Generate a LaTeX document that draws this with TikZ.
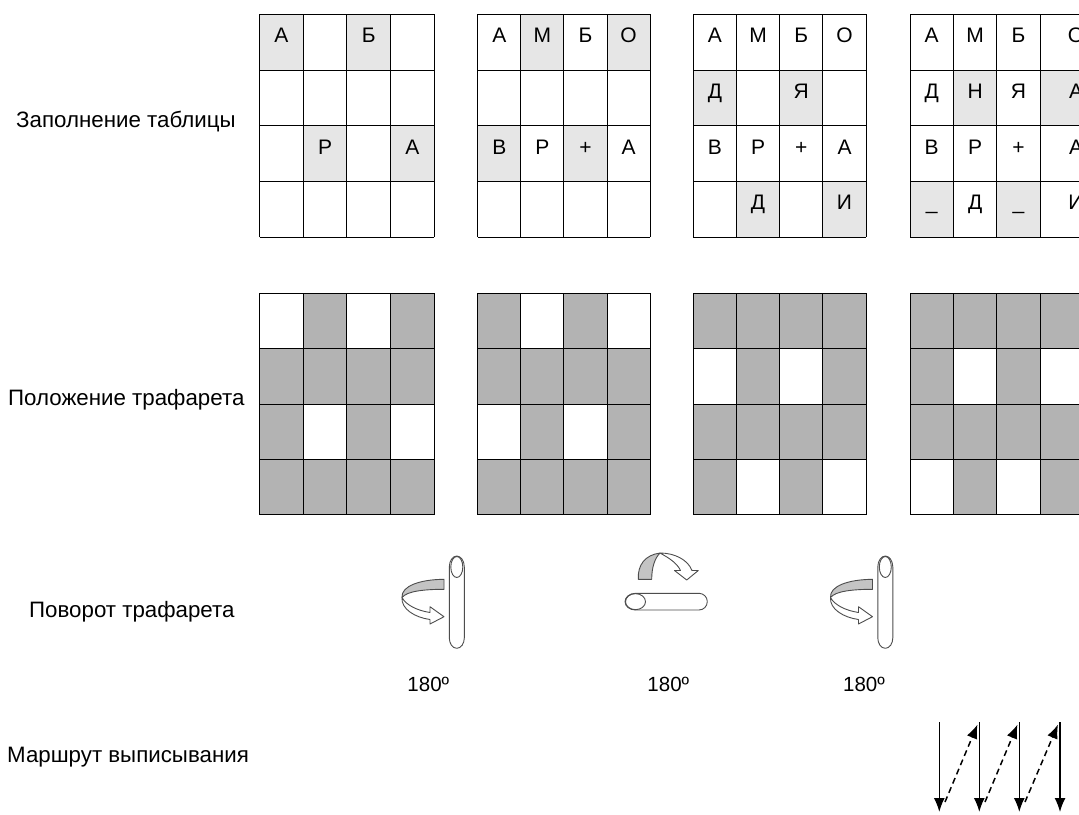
\documentclass[tikz,border=0pt]{standalone}
\usepackage{fontspec}
\setmainfont{Liberation Sans}
\usetikzlibrary{arrows.meta}
\definecolor{stencil}{HTML}{B3B3B3}
\definecolor{hilite}{HTML}{E6E6E6}
\definecolor{iconline}{HTML}{4D4D4D}
\definecolor{band}{HTML}{C4C4C4}
\begin{document}
\begin{tikzpicture}[x=1pt,y=-1pt,
  txt/.style={font=\fontsize{21}{25}\selectfont, inner sep=0pt},
  lbl/.style={font=\fontsize{22.3}{26}\selectfont, inner sep=0pt, anchor=base west},
  deg/.style={font=\fontsize{20.5}{24}\selectfont, inner sep=0pt, anchor=base},
  gridline/.style={draw=black, line width=1pt},
  iconpath/.style={draw=iconline, line width=0.9pt, line join=round},
  route/.style={line width=1.5pt, -{Latex[length=14pt,width=11pt]}},
  routeback/.style={route, dash pattern=on 6pt off 4pt}]
\useasboundingbox (0,0) rectangle (1079,814);
\clip (0,0) rectangle (1079,814);
\fill[white] (0,0) rectangle (1079,814);

% ---------- labels ----------
\node[lbl] (lab1) at (16,127) {Заполнение таблицы};
\node[lbl] (lab2) at (8,405) {Положение трафарета};
\node[lbl] (lab3) at (29,617) {Поворот трафарета};
\node[lbl] (lab4) at (7,762) {Маршрут выписывания};

% ---------- grids ----------
\def\TT{14.3}\def\TH{55.75}
\def\ST{293.3}\def\SH{55.4}
\foreach \L/\w/\cells in {259.5/43.7/{0/0,0/2,2/1,2/3},
                          477.7/43.1/{0/1,0/3,2/0,2/2},
                          693.3/43.2/{1/0,1/2,3/1,3/3},
                          910/43.4/{1/1,1/3,3/0,3/2}}{
  \foreach \r/\c in \cells {
    \fill[hilite] ({\L+\c*\w},{\TT+\r*\TH}) rectangle ({\L+(\c+1)*\w},{\TT+(\r+1)*\TH});
  }
  \foreach \i in {0,...,4} {
    \draw[gridline] ({\L+\i*\w},\TT) -- ({\L+\i*\w},{\TT+4*\TH});
    \draw[gridline] (\L,{\TT+\i*\TH}) -- ({\L+4*\w},{\TT+\i*\TH});
  }
  % stencils
  \fill[stencil] (\L,\ST) rectangle ({\L+4*\w},{\ST+4*\SH});
  \foreach \r/\c in \cells {
    \fill[white] ({\L+\c*\w},{\ST+\r*\SH}) rectangle ({\L+(\c+1)*\w},{\ST+(\r+1)*\SH});
  }
  \foreach \i in {0,...,4} {
    \draw[gridline] ({\L+\i*\w},\ST) -- ({\L+\i*\w},{\ST+4*\SH});
    \draw[gridline] (\L,{\ST+\i*\SH}) -- ({\L+4*\w},{\ST+\i*\SH});
  }
}

% ---------- letters ----------
\def\BA{42.7}\def\BB{98.45}\def\BC{154.2}\def\BD{209.95}
% grid 1
\node[txt,anchor=base] (g1a) at (281.35,\BA) {А};
\node[txt,anchor=base] (g1b) at (368.75,\BA) {Б};
\node[txt,anchor=base] (g1c) at (325.05,\BC) {Р};
\node[txt,anchor=base] (g1d) at (412.45,\BC) {А};
% grid 2
\node[txt,anchor=base] (g2a) at (499.25,\BA) {А};
\node[txt,anchor=base] (g2b) at (542.35,\BA) {М};
\node[txt,anchor=base] (g2c) at (585.45,\BA) {Б};
\node[txt,anchor=base] (g2d) at (628.55,\BA) {О};
\node[txt,anchor=base] (g2e) at (499.25,\BC) {В};
\node[txt,anchor=base] (g2f) at (542.35,\BC) {Р};
\node[txt,anchor=base] (g2g) at (585.45,\BC) {+};
\node[txt,anchor=base] (g2h) at (628.55,\BC) {А};
% grid 3
\node[txt,anchor=base] (g3a) at (714.9,\BA) {А};
\node[txt,anchor=base] (g3b) at (758.1,\BA) {М};
\node[txt,anchor=base] (g3c) at (801.3,\BA) {Б};
\node[txt,anchor=base] (g3d) at (844.5,\BA) {О};
\node[txt,anchor=base] (g3e) at (714.9,\BB) {Д};
\node[txt,anchor=base] (g3f) at (801.3,\BB) {Я};
\node[txt,anchor=base] (g3g) at (714.9,\BC) {В};
\node[txt,anchor=base] (g3h) at (758.1,\BC) {Р};
\node[txt,anchor=base] (g3i) at (801.3,\BC) {+};
\node[txt,anchor=base] (g3j) at (844.5,\BC) {А};
\node[txt,anchor=base] (g3k) at (758.1,\BD) {Д};
\node[txt,anchor=base] (g3l) at (844.5,\BD) {И};
% grid 4
\node[txt,anchor=base] (g4a) at (931.7,\BA) {А};
\node[txt,anchor=base] (g4b) at (975.1,\BA) {М};
\node[txt,anchor=base] (g4c) at (1018.5,\BA) {Б};
\node[txt,anchor=base] (g4d) at (1076,\BA) {О};
\node[txt,anchor=base] (g4e) at (931.7,\BB) {Д};
\node[txt,anchor=base] (g4f) at (975.1,\BB) {Н};
\node[txt,anchor=base] (g4g) at (1018.5,\BB) {Я};
\node[txt,anchor=base] (g4h) at (1076,\BB) {А};
\node[txt,anchor=base] (g4i) at (931.7,\BC) {В};
\node[txt,anchor=base] (g4j) at (975.1,\BC) {Р};
\node[txt,anchor=base] (g4k) at (1018.5,\BC) {+};
\node[txt,anchor=base] (g4l) at (1076,\BC) {А};
\node[txt,anchor=base] (g4m) at (931.7,\BD) {\_};
\node[txt,anchor=base] (g4n) at (975.1,\BD) {Д};
\node[txt,anchor=base] (g4o) at (1018.5,\BD) {\_};
\node[txt,anchor=base] (g4p) at (1076,\BD) {И};

% ---------- rotation icons ----------
\foreach \dx in {0,428.5} {
  \begin{scope}[xshift=\dx]
    \draw[iconpath, fill=white] (449.3,567) -- (449.3,638)
      arc[start angle=180, end angle=0, x radius=7.5, y radius=10.3]
      -- (464.3,567)
      arc[start angle=0, end angle=-180, x radius=7.5, y radius=11];
    \draw[iconpath] (456.8,567) ellipse[x radius=6, y radius=10.5];
    \draw[iconpath, fill=band] (444,579.3) .. controls (420,579.5) and (401,586) .. (402,597.5)
      .. controls (407,591) and (425,589.3) .. (444,589.3) -- cycle;
    \draw[iconpath, fill=white] (402,597.5) .. controls (401,609) and (415,617.5) .. (430,619.5)
      -- (430,624) -- (444,616.7) -- (430,606.7) -- (430,612.5)
      .. controls (417,610.5) and (406,605) .. (402,597.5) -- cycle;
  \end{scope}
}
\draw[iconpath, fill=white] (635.5,593.3) -- (699,593.3)
  arc[start angle=-90, end angle=90, x radius=8.3, y radius=8.35]
  -- (635.5,610)
  arc[start angle=90, end angle=270, x radius=10.5, y radius=8.35] -- cycle;
\draw[iconpath] (635.5,601.65) ellipse[x radius=10, y radius=8];
\draw[iconpath, fill=band] (638.3,579.3) .. controls (637.5,565) and (645,555) .. (660,553)
  .. controls (655,558) and (651.7,567) .. (651.7,579.3) -- cycle;
\draw[iconpath, fill=white] (660,553) .. controls (675,553) and (688,560) .. (692,570.5)
  -- (698.3,570.5) -- (686.7,580) -- (674.5,570.5) -- (680.5,570.5)
  .. controls (677,563) and (669,558) .. (660,553) -- cycle;

% ---------- 180 labels ----------
\node[deg] (r1) at (428.3,691.5) {180º};
\node[deg] (r2) at (668.3,691.5) {180º};
\node[deg] (r3) at (864,691.5) {180º};

% ---------- route ----------
\coordinate (s1t) at (939.3,722.3); \coordinate (s1b) at (939.3,812);
\coordinate (s2t) at (979.3,722.3); \coordinate (s2b) at (979.3,812);
\coordinate (s3t) at (1019.3,722.3); \coordinate (s3b) at (1019.3,812);
\coordinate (s4t) at (1060,722.3); \coordinate (s4b) at (1060,812);
\coordinate (d1s) at (945,802); \coordinate (d1e) at (977.5,724.5);
\coordinate (d2s) at (985,802); \coordinate (d2e) at (1017.5,724.5);
\coordinate (d3s) at (1025,802); \coordinate (d3e) at (1058,724.5);
\draw[route] (s1t) -- (s1b);
\draw[route] (s2t) -- (s2b);
\draw[route] (s3t) -- (s3b);
\draw[route] (s4t) -- (s4b);
\draw[routeback] (d1s) -- (d1e);
\draw[routeback] (d2s) -- (d2e);
\draw[routeback] (d3s) -- (d3e);
\end{tikzpicture}
\end{document}
